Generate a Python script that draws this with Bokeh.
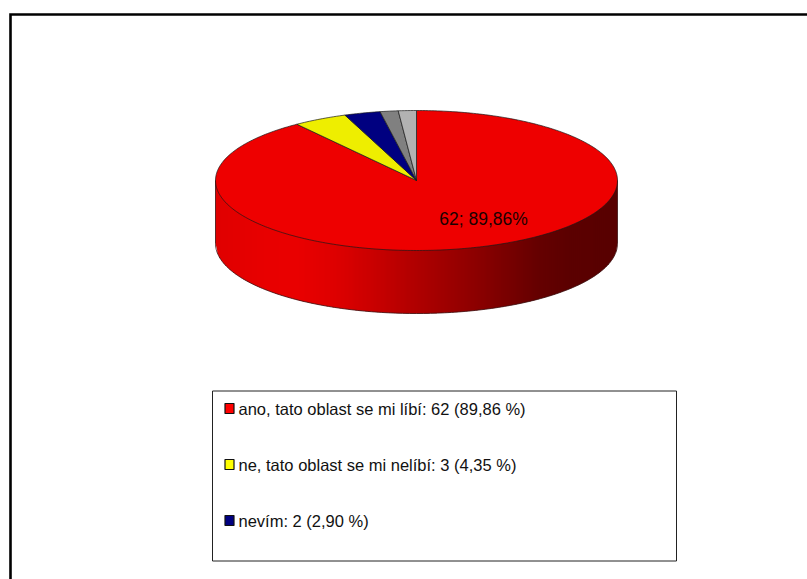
import math
from bokeh.core.properties import value
from bokeh.embed import file_html
from bokeh.models import Range1d
from bokeh.plotting import figure
from bokeh.resources import INLINE

# Survey answers
counts = [62, 3, 2, 1, 1]
slice_colors = ["#ee0000", "#eeee00", "#000080", "#808080", "#b2b2b2"]
data_label = "62; 89,86%"
legend_labels = [
    "ano, tato oblast se mi líbí: 62 (89,86 %)",
    "ne, tato oblast se mi nelíbí: 3 (4,35 %)",
    "nevím: 2 (2,90 %)",
]
legend_colors = ["#ff0000", "#ffff00", "#000080"]

W, H = 807, 579
CX, CY, RX, RY, DEPTH = 416, 180, 201, 70, 63
FONT = value("Liberation Sans")

# Wall shading along the horizontal extent of the disc (position 0..1, red level)
wall_stops = [(0.0, 0xe0), (0.12, 0xe8), (0.2, 0xea), (0.3, 0xde), (0.4, 0xc8),
              (0.5, 0xb0), (0.65, 0x8c), (0.8, 0x66), (0.88, 0x5c), (1.0, 0x58)]


def wall_level(t):
    for (t0, v0), (t1, v1) in zip(wall_stops, wall_stops[1:]):
        if t <= t1:
            return v0 + (v1 - v0) * (t - t0) / (t1 - t0)
    return wall_stops[-1][1]


def rim_offset(x):
    # Vertical distance of the lower rim from the disc's centre line
    u = max(-1.0, min(1.0, (x - CX) / RX))
    return RY * math.sqrt(1 - u * u)


p = figure(width=W, height=H, x_range=Range1d(0, W), y_range=Range1d(H, 0),
           output_backend="svg", toolbar_location=None, min_border=0,
           outline_line_color=None, background_fill_color="white",
           border_fill_color="white")
p.axis.visible = False
p.grid.visible = False

# Page frame: open towards the right and bottom edges
p.line([10, 10, W], [H, 14, 14], line_color="#000000", line_width=2.6,
       line_join="miter")

# Side wall of the disc: vertical strips of equal width, each overlapping the next
arc = [math.pi * i / 180 for i in range(181)]
step = 2
x = CX - RX
while x < CX + RX:
    x2 = min(x + step + 1, CX + RX)
    level = int(wall_level((x + step / 2 - (CX - RX)) / (2 * RX)))
    p.patch([x, x2, x2, x],
            [CY + rim_offset(x) - 1, CY + rim_offset(x2) - 1,
             CY + rim_offset(x2) + DEPTH, CY + rim_offset(x) + DEPTH],
            fill_color=f"#{level:02x}0000", line_color=None)
    x += step

# Outline of the wall
p.line([CX - RX, CX - RX] + [CX - RX * math.cos(a) for a in arc] + [CX + RX, CX + RX],
       [CY, CY + DEPTH] + [CY + DEPTH + RY * math.sin(a) for a in arc] + [CY + DEPTH, CY],
       line_color="#3a1010", line_width=0.8)

# Top face: each slice swept clockwise from twelve o'clock
total = sum(counts)
running = 0
for count, color in zip(counts, slice_colors):
    start = 2 * math.pi * running / total
    stop = 2 * math.pi * (running + count) / total
    steps = max(4, int(count * 6))
    angles = [start + (stop - start) * k / steps for k in range(steps + 1)]
    xs = [CX] + [CX + RX * math.sin(a) for a in angles]
    ys = [CY] + [CY - RY * math.cos(a) for a in angles]
    p.patch(xs, ys, fill_color=color, line_color="#1a1a1a", line_width=0.7)
    running += count

# Value label on the largest slice
p.text([483], [218], text=[data_label], text_font=FONT, text_font_size="17.5px",
       text_align="center", text_baseline="middle", text_color="#1a0000")

# Legend box with its three entries
p.quad(left=[212], right=[676], top=[390.5], bottom=[560.5],
       fill_color="white", line_color="#222222", line_width=1)
row_ys = [408, 464, 520]
p.rect([229] * 3, row_ys, width=9, height=10, fill_color=legend_colors,
       line_color="#111111", line_width=1.2)
p.text([238] * 3, row_ys, text=legend_labels, text_font=FONT, text_font_size="16.5px",
       text_align="left", text_baseline="middle", text_color="#111111")

open("out.html", "w").write(file_html(p, INLINE))
